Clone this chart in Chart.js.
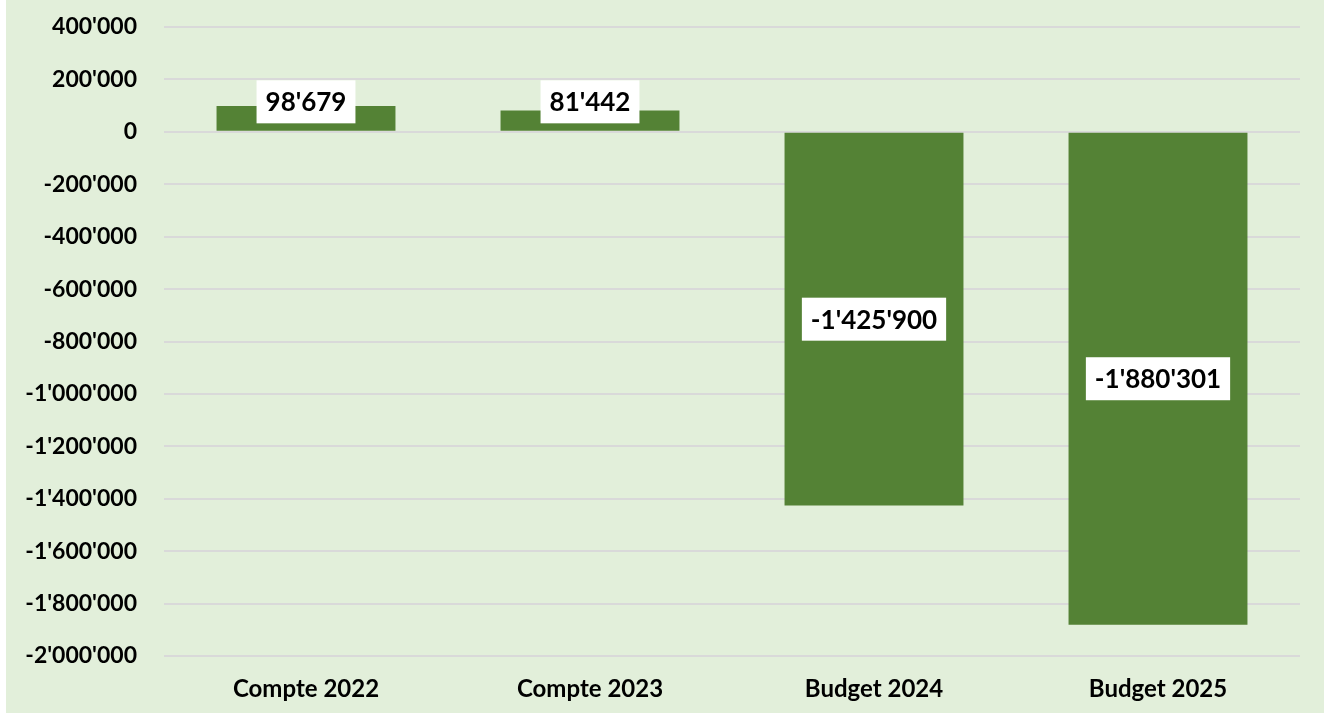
<!DOCTYPE html>
<html><head><meta charset="utf-8">
<script src="https://cdn.jsdelivr.net/npm/chart.js@4"></script>
<style>
html,body{margin:0;padding:0;background:#ffffff;}
#wrap{position:absolute;left:6px;top:0;width:1318px;height:713px;background:#E2EFDA;}
</style></head>
<body><div id="wrap"><canvas id="c" width="1318" height="713"></canvas></div>
<script>
const categories = ["Compte 2022", "Compte 2023", "Budget 2024", "Budget 2025"];
const values = [98679, 81442, -1425900, -1880301];
const yMin = -2000000, yMax = 400000, yStep = 200000;

function fmt(v){
  const neg = v < 0; let s = Math.abs(Math.round(v)).toString();
  s = s.replace(/\B(?=(\d{3})+(?!\d))/g, "'");
  return (neg ? '-' : '') + s;
}
const FONT = 'Lato, "Open Sans", sans-serif';

const labelPlugin = {
  id: 'boxLabels',
  afterDatasetsDraw(chart){
    const ctx = chart.ctx;
    const meta = chart.getDatasetMeta(0);
    const zeroY = chart.scales.y.getPixelForValue(0);
    ctx.save();
    ctx.font = 'bold 26px ' + FONT;
    ctx.textAlign = 'center'; ctx.textBaseline = 'middle';
    meta.data.forEach((bar, i) => {
      const txt = fmt(values[i]);
      const w = ctx.measureText(txt).width + 18, h = 43;
      let cy = (bar.y + bar.base) / 2;
      if (Math.abs(bar.base - bar.y) < h) cy = zeroY - 30;
      ctx.fillStyle = '#ffffff';
      ctx.fillRect(bar.x - w/2, cy - h/2, w, h);
      ctx.fillStyle = '#000000';
      ctx.fillText(txt, bar.x, cy + 1);
    });
    ctx.restore();
  }
};

new Chart(document.getElementById('c'), {
  type: 'bar',
  data: { labels: categories, datasets: [{ data: values, backgroundColor: '#548235', borderWidth: 0, categoryPercentage: 0.63, barPercentage: 1.0 }] },
  options: {
    responsive: false, animation: false,
    layout: { padding: { top: 27, right: 24, bottom: 0, left: 0 } },
    plugins: { legend: { display: false }, tooltip: { enabled: false } },
    scales: {
      x: {
        grid: { display: false, drawTicks: false },
        border: { display: false },
        ticks: { color: '#000', font: { family: FONT, size: 24, weight: 'bold' }, padding: 19 },
        afterFit(s){ s.height = 57; s.paddingLeft = 0; s.paddingRight = 0; }
      },
      y: {
        min: yMin, max: yMax,
        grid: { color: '#D9D9D9', lineWidth: 2, drawTicks: false },
        border: { display: false },
        ticks: { stepSize: yStep, color: '#000', font: { family: FONT, size: 23, weight: 'bold' }, padding: 27, callback: v => fmt(v) },
        afterFit(s){ s.width = 158; s.paddingTop = 0; s.paddingBottom = 0; }
      }
    }
  },
  plugins: [labelPlugin]
});
</script></body></html>
